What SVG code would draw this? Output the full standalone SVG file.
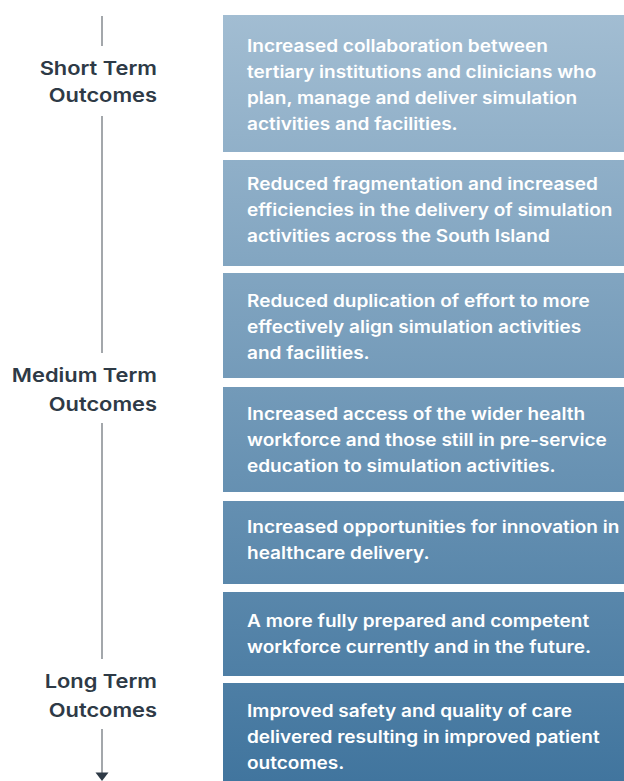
<svg xmlns="http://www.w3.org/2000/svg" width="624" height="781" viewBox="0 0 624 781">
<defs>
<linearGradient id="g" gradientUnits="userSpaceOnUse" x1="0" y1="15" x2="0" y2="781">
<stop offset="0" stop-color="#a2bdd2"/>
<stop offset="1" stop-color="#41759e"/>
</linearGradient>
</defs>
<style>
.box{fill:url(#g)}
.bt{font-family:Inter,"Liberation Sans",sans-serif;font-weight:600;font-size:17px;fill:#ffffff}
.lt{font-family:Inter,"Liberation Sans",sans-serif;font-weight:600;font-size:19px;fill:#2e3a46;text-anchor:end}
.ln{stroke:#8c9196;stroke-width:1.6;fill:none}
</style>
<rect width="624" height="781" fill="#ffffff"/>
<g id="connectors">
<line class="ln" x1="102" y1="16" x2="102" y2="46"/>
<line class="ln" x1="102" y1="116" x2="102" y2="353"/>
<line class="ln" x1="102" y1="423" x2="102" y2="659"/>
<line class="ln" x1="102" y1="729" x2="102" y2="775"/>
<polygon points="95.5,772.5 108.5,772.5 102,781" fill="#2e3a46"/>
</g>
<g id="label-short" transform="translate(157,0) scale(1.15,1)">
<text class="lt" x="0" y="75">Short Term</text>
<text class="lt" x="0" y="102">Outcomes</text>
</g>
<g id="label-medium" transform="translate(157,0) scale(1.15,1)">
<text class="lt" x="0" y="382">Medium Term</text>
<text class="lt" x="0" y="411">Outcomes</text>
</g>
<g id="label-long" transform="translate(157,0) scale(1.15,1)">
<text class="lt" x="0" y="688">Long Term</text>
<text class="lt" x="0" y="717">Outcomes</text>
</g>
<g id="box1">
<rect class="box" x="223" y="15" width="401" height="137"/>
<g transform="translate(247,0) scale(1.12,1)">
<text class="bt" x="0" y="52">Increased collaboration between</text>
<text class="bt" x="0" y="78">tertiary institutions and clinicians who</text>
<text class="bt" x="0" y="104">plan, manage and deliver simulation</text>
<text class="bt" x="0" y="130">activities and facilities.</text>
</g>
</g>
<g id="box2">
<rect class="box" x="223" y="160" width="401" height="106"/>
<g transform="translate(247,0) scale(1.12,1)">
<text class="bt" x="0" y="190">Reduced fragmentation and increased</text>
<text class="bt" x="0" y="216">efficiencies in the delivery of simulation</text>
<text class="bt" x="0" y="242">activities across the South Island</text>
</g>
</g>
<g id="box3">
<rect class="box" x="223" y="273" width="401" height="105"/>
<g transform="translate(247,0) scale(1.12,1)">
<text class="bt" x="0" y="307">Reduced duplication of effort to more</text>
<text class="bt" x="0" y="333">effectively align simulation activities</text>
<text class="bt" x="0" y="359">and facilities.</text>
</g>
</g>
<g id="box4">
<rect class="box" x="223" y="387" width="401" height="105"/>
<g transform="translate(247,0) scale(1.12,1)">
<text class="bt" x="0" y="420">Increased access of the wider health</text>
<text class="bt" x="0" y="446">workforce and those still in pre-service</text>
<text class="bt" x="0" y="472">education to simulation activities.</text>
</g>
</g>
<g id="box5">
<rect class="box" x="223" y="501" width="401" height="83"/>
<g transform="translate(247,0) scale(1.12,1)">
<text class="bt" x="0" y="533">Increased opportunities for innovation in</text>
<text class="bt" x="0" y="559">healthcare delivery.</text>
</g>
</g>
<g id="box6">
<rect class="box" x="223" y="592" width="401" height="84"/>
<g transform="translate(247,0) scale(1.12,1)">
<text class="bt" x="0" y="627">A more fully prepared and competent</text>
<text class="bt" x="0" y="653">workforce currently and in the future.</text>
</g>
</g>
<g id="box7">
<rect class="box" x="223" y="683" width="401" height="98"/>
<g transform="translate(247,0) scale(1.12,1)">
<text class="bt" x="0" y="717">Improved safety and quality of care</text>
<text class="bt" x="0" y="743">delivered resulting in improved patient</text>
<text class="bt" x="0" y="769">outcomes.</text>
</g>
</g>
</svg>
